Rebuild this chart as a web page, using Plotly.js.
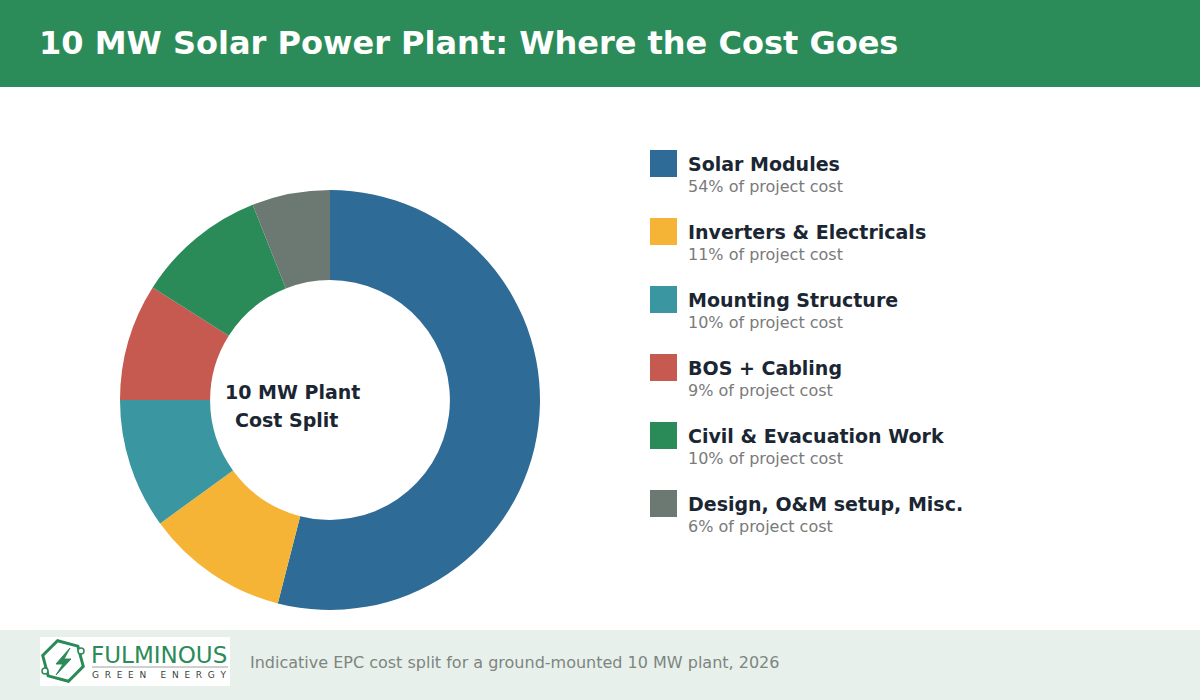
<!DOCTYPE html>
<html>
<head>
<meta charset="utf-8">
<script src="https://cdn.plot.ly/plotly-3.0.1.min.js"></script>
<style>
  html, body { margin: 0; padding: 0; background: #ffffff; }
  #chart { width: 1200px; height: 700px; }
</style>
</head>
<body>
<div id="chart"></div>
<script>
// ---- Data ----
const categories = ["Solar Modules", "Inverters & Electricals", "Mounting Structure", "BOS + Cabling", "Civil & Evacuation Work", "Design, O&M setup, Misc."];
const shares = [54, 11, 10, 9, 10, 6];
const colors = ["#2e6b96", "#f5b436", "#3a96a0", "#c65a50", "#2a8b58", "#6c7872"];
const chartTitle = "10 MW Solar Power Plant: Where the Cost Goes";
const centerLines = ["10 MW Plant", "Cost Split"];
const footerNote = "Indicative EPC cost split for a ground-mounted 10 MW plant, 2026";

// ---- Helpers: pixel -> paper ----
const W = 1200, H = 700;
const X = px => px / W;
const Y = py => 1 - py / H;
const FONT = "DejaVu Sans, Verdana, sans-serif";

const shapes = [];
const annotations = [];

// Header band
shapes.push({type: "rect", xref: "paper", yref: "paper", x0: 0, x1: 1, y0: Y(87), y1: 1,
  fillcolor: "#2b8c59", line: {width: 0}, layer: "below"});
annotations.push({xref: "paper", yref: "paper", x: X(37), y: Y(43), xanchor: "left", yanchor: "middle",
  text: "<b>" + chartTitle + "</b>", showarrow: false, font: {family: FONT, size: 32, color: "#ffffff"}});

// Footer band
shapes.push({type: "rect", xref: "paper", yref: "paper", x0: 0, x1: 1, y0: 0, y1: Y(630),
  fillcolor: "#e8f0eb", line: {width: 0}, layer: "below"});
annotations.push({xref: "paper", yref: "paper", x: X(248), y: Y(662), xanchor: "left", yanchor: "middle",
  text: footerNote, showarrow: false, font: {family: FONT, size: 16, color: "#7d8580"}});

// Logo box
shapes.push({type: "rect", xref: "paper", yref: "paper", x0: X(40), x1: X(230), y0: Y(686), y1: Y(637),
  fillcolor: "#ffffff", line: {width: 0}, layer: "below"});
// hexagon icon
(function(){
  const cx = 63, cy = 661, r = 21;
  let d = "";
  for (let k = 0; k < 6; k++) {
    const a = (Math.PI / 180) * (60 * k + 15);
    const px = cx + r * Math.cos(a), py = cy + r * Math.sin(a);
    d += (k === 0 ? "M" : "L") + X(px).toFixed(5) + "," + Y(py).toFixed(5);
  }
  d += "Z";
  shapes.push({type: "path", xref: "paper", yref: "paper", path: d, line: {color: "#2a8b58", width: 3}, fillcolor: "rgba(0,0,0,0)"});
  // bolt
  const bolt = [[70,648],[56,664],[63,664],[56,675],[71,659],[64,659]];
  let b = "";
  bolt.forEach((p, i) => { b += (i === 0 ? "M" : "L") + X(p[0]).toFixed(5) + "," + Y(p[1]).toFixed(5); });
  b += "Z";
  shapes.push({type: "path", xref: "paper", yref: "paper", path: b, line: {color: "#2a8b58", width: 1}, fillcolor: "#2a8b58"});
  // nodes
  [[45,671],[81,651]].forEach(p => {
    shapes.push({type: "circle", xref: "paper", yref: "paper", x0: X(p[0]-3), x1: X(p[0]+3), y0: Y(p[1]+3), y1: Y(p[1]-3),
      line: {color: "#2a8b58", width: 1.5}, fillcolor: "#ffffff"});
  });
})();
annotations.push({xref: "paper", yref: "paper", x: X(89), y: Y(655), xanchor: "left", yanchor: "middle",
  text: "FULMINOUS", showarrow: false, font: {family: FONT, size: 23, color: "#2a8b58"}});
shapes.push({type: "line", xref: "paper", yref: "paper", x0: X(92), x1: X(228), y0: Y(667), y1: Y(667),
  line: {color: "#9aa39e", width: 1}});
annotations.push({xref: "paper", yref: "paper", x: X(90), y: Y(675), xanchor: "left", yanchor: "middle",
  text: "G  R  E  E  N     E  N  E  R  G  Y", showarrow: false, font: {family: FONT, size: 9, color: "#3a3f3c"}});

// Center label
annotations.push({xref: "paper", yref: "paper", x: X(292), y: Y(392), xanchor: "center", yanchor: "middle",
  text: "<b>" + centerLines[0] + "</b>", showarrow: false, font: {family: FONT, size: 19, color: "#1b2633"}});
annotations.push({xref: "paper", yref: "paper", x: X(286), y: Y(420), xanchor: "center", yanchor: "middle",
  text: "<b>" + centerLines[1] + "</b>", showarrow: false, font: {family: FONT, size: 19, color: "#1b2633"}});

// Custom legend
categories.forEach((name, i) => {
  const top = 150 + 68 * i;
  shapes.push({type: "rect", xref: "paper", yref: "paper", x0: X(650), x1: X(677), y0: Y(top + 27), y1: Y(top),
    fillcolor: colors[i], line: {width: 0}});
  annotations.push({xref: "paper", yref: "paper", x: X(686), y: Y(top + 14), xanchor: "left", yanchor: "middle",
    text: "<b>" + name + "</b>", showarrow: false, font: {family: FONT, size: 19, color: "#1b2633"}});
  annotations.push({xref: "paper", yref: "paper", x: X(686), y: Y(top + 36), xanchor: "left", yanchor: "middle",
    text: shares[i] + "% of project cost", showarrow: false, font: {family: FONT, size: 16, color: "#7a7a7a"}});
});

const data = [{
  type: "pie",
  labels: categories,
  values: shares,
  marker: {colors: colors, line: {width: 0}},
  hole: 0.571,
  sort: false,
  direction: "clockwise",
  rotation: 0,
  textinfo: "none",
  hoverinfo: "label+percent",
  showlegend: false,
  domain: {x: [X(120), X(540)], y: [Y(610), Y(190)]}
}];

const layout = {
  width: W, height: H,
  margin: {l: 0, r: 0, t: 0, b: 0},
  paper_bgcolor: "#ffffff",
  showlegend: false,
  shapes: shapes,
  annotations: annotations
};

Plotly.newPlot("chart", data, layout, {displayModeBar: false, staticPlot: true});
</script>
</body>
</html>
